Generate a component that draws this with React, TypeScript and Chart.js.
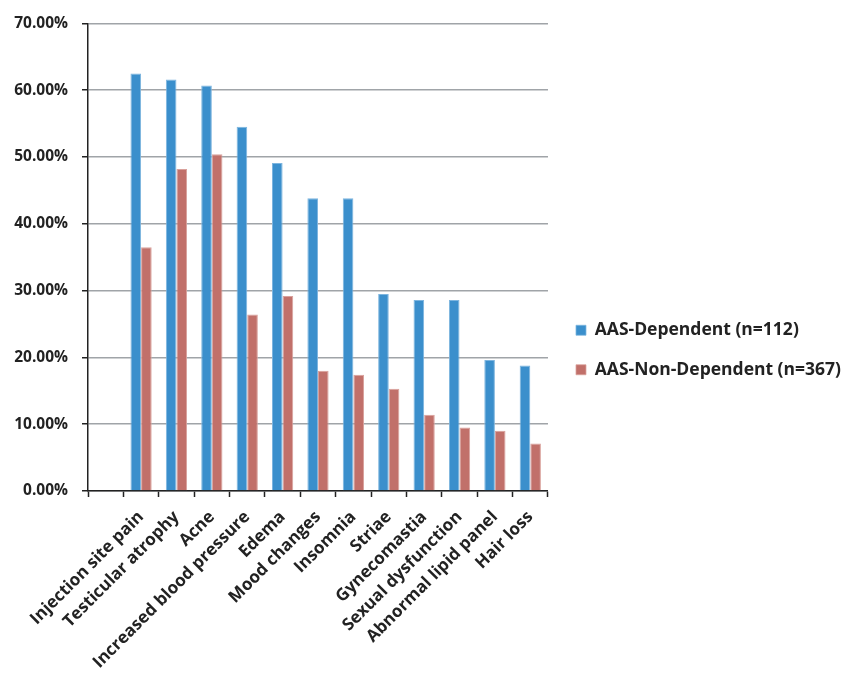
import React, { useEffect, useRef } from "react";
import { Chart, registerables } from "chart.js";

Chart.register(...registerables);

const categories: string[] = [
  "",
  "Injection site pain",
  "Testicular atrophy",
  "Acne",
  "Increased blood pressure",
  "Edema",
  "Mood changes",
  "Insomnia",
  "Striae",
  "Gynecomastia",
  "Sexual dysfunction",
  "Abnormal lipid panel",
  "Hair loss",
];

const dependentValues: (number | null)[] = [
  null, 62.5, 61.6, 60.7, 54.5, 49.1, 43.8, 43.8, 29.5, 28.6, 28.6, 19.6, 18.8,
];

const nonDependentValues: (number | null)[] = [
  null, 36.5, 48.2, 50.4, 26.4, 29.2, 18.0, 17.4, 15.3, 11.4, 9.5, 9.0, 7.1,
];

const seriesLabels: string[] = ["AAS-Dependent (n=112)", "AAS-Non-Dependent (n=367)"];

const yMin = 0;
const yMax = 70;
const yStep = 10;

const FONT = "'Open Sans', 'DejaVu Sans', sans-serif";

const legendShift = {
  id: "legendShift",
  afterLayout(chart: any) {
    if (chart.legend) {
      chart.legend.left += 6;
      chart.legend.top += 2;
      chart.legend.bottom += 2;
    }
  },
};

export default function App() {
  const canvasRef = useRef<HTMLCanvasElement | null>(null);

  useEffect(() => {
    if (!canvasRef.current) return;
    const chart = new Chart(canvasRef.current, {
      type: "bar",
      data: {
        labels: categories,
        datasets: [
          {
            label: seriesLabels[0],
            data: dependentValues,
            backgroundColor: "#3B8FCC",
            borderColor: "#7DB5DF",
            borderWidth: { top: 1, left: 1, right: 1, bottom: 0 },
            borderSkipped: false,
          },
          {
            label: seriesLabels[1],
            data: nonDependentValues,
            backgroundColor: "#C1706A",
            borderColor: "#D9A19C",
            borderWidth: { top: 1, left: 1, right: 1, bottom: 0 },
            borderSkipped: false,
          },
        ],
      },
      options: {
        responsive: false,
        animation: false,
        layout: { padding: { top: 20, left: 0, right: 0, bottom: 0 } },
        datasets: {
          bar: { barPercentage: 1, categoryPercentage: 0.6 },
        },
        plugins: {
          tooltip: { enabled: false },
          legend: {
            position: "right",
            maxWidth: 298,
            labels: {
              boxWidth: 10,
              boxHeight: 10,
              padding: 22,
              color: "#222222",
              font: { family: FONT, size: 17.5, weight: "bold" },
            },
          },
        },
        scales: {
          x: {
            grid: {
              offset: true,
              drawOnChartArea: false,
              drawTicks: true,
              tickLength: 6,
              tickColor: "#222222",
              tickWidth: 1.5,
            },
            border: { color: "#222222", width: 1.5 },
            ticks: {
              autoSkip: false,
              minRotation: 45,
              maxRotation: 45,
              padding: 10,
              color: "#222222",
              font: { family: FONT, size: 17, weight: "bold" },
            },
            afterFit: (scale: any) => {
              scale.height = 185;
            },
          },
          y: {
            min: yMin,
            max: yMax,
            grid: {
              color: "#A0A4A8",
              lineWidth: 1.5,
              tickLength: 6,
              tickColor: "#222222",
            },
            border: { color: "#222222", width: 1.5 },
            ticks: {
              stepSize: yStep,
              padding: 14,
              color: "#222222",
              font: { family: FONT, size: 15.5, weight: "bold" },
              callback: (v: any) => Number(v).toFixed(2) + "%",
            },
            afterFit: (scale: any) => {
              scale.width = 88;
            },
          },
        },
      },
      plugins: [legendShift],
    });
    return () => chart.destroy();
  }, []);

  return (
    <div style={{ position: "absolute", left: 0, top: 0, width: 845, height: 676, background: "#fff" }}>
      <canvas ref={canvasRef} width={845} height={676} />
    </div>
  );
}
